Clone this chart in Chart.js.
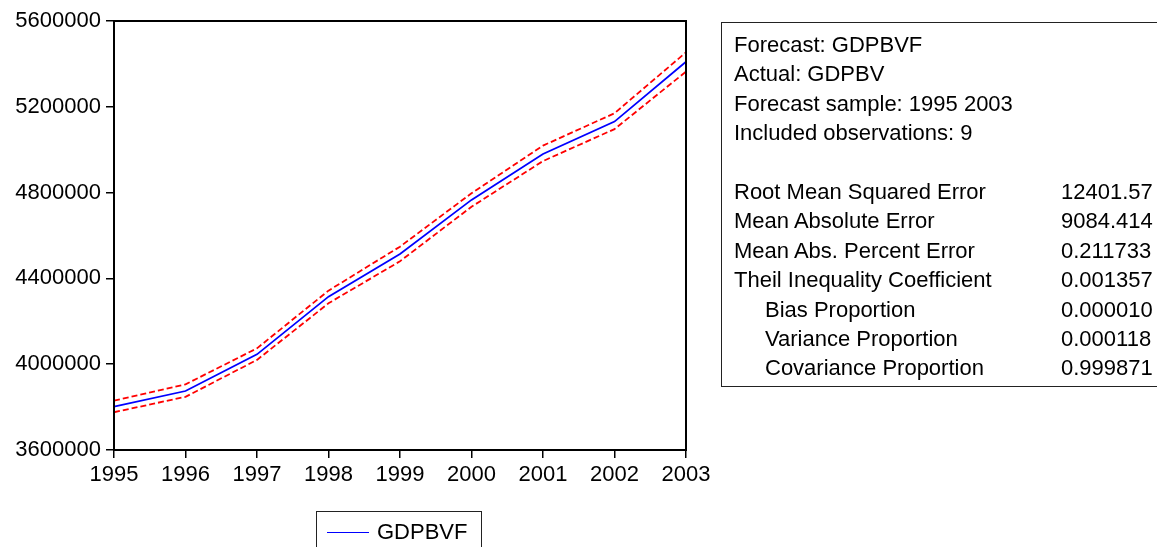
<!DOCTYPE html>
<html>
<head>
<meta charset="utf-8">
<script src="https://cdn.jsdelivr.net/npm/chart.js@4.4.0/dist/chart.umd.min.js"></script>
<style>
    body { margin: 0; background: #fff; font-family: "Liberation Sans", Arial, sans-serif; }
    #wrap { position: relative; width: 1157px; height: 547px; overflow: hidden; }
    #chart-box { position: absolute; left: 0; top: 0; width: 1157px; height: 547px; }
    #stats {
        position: absolute; left: 721px; top: 22px; width: 470px; height: 365px;
        border: 1.5px solid #222; box-sizing: border-box; padding: 7px 0 0 12px;
        font-size: 22px; line-height: 29.4px; color: #000;
    }
    #stats .row { position: relative; height: 29.4px; white-space: nowrap; }
    #stats .row.indent .lbl { padding-left: 31px; }
    #stats .val { position: absolute; left: 327px; top: 0; }
    #legend {
        position: absolute; left: 316px; top: 511px; width: 166px; height: 60px;
        border: 1.5px solid #222; box-sizing: border-box; font-size: 22px; color: #000;
    }
    #legend .swatch { position: absolute; left: 10px; top: 20px; width: 42px; height: 0; border-top: 1.5px solid #0000ff; }
    #legend .txt { position: absolute; left: 60px; top: 7px; line-height: 26px; }
</style>
</head>
<body>
<div id="wrap">
    <div id="chart-box"><canvas id="forecastChart"></canvas></div>
    <div id="stats"></div>
    <div id="legend"><span class="swatch"></span><span class="txt">GDPBVF</span></div>
</div>
<script>
// values
const years = ["1995", "1996", "1997", "1998", "1999", "2000", "2001", "2002", "2003"];
const forecast = [3802000, 3875000, 4046000, 4315000, 4514000, 4766000, 4980000, 5131000, 5410000];
const upperBand = [3830000, 3906000, 4074000, 4343000, 4548000, 4797000, 5019000, 5170000, 5454000];
const lowerBand = [3776000, 3848000, 4020000, 4284000, 4480000, 4734000, 4947000, 5096000, 5364000];
const yTicks = [3600000, 4000000, 4400000, 4800000, 5200000, 5600000];

const headerLines = ["Forecast: GDPBVF", "Actual: GDPBV", "Forecast sample: 1995 2003", "Included observations: 9"];
const statNames = ["Root Mean Squared Error", "Mean Absolute Error", "Mean Abs. Percent Error",
    "Theil Inequality Coefficient", "Bias Proportion", "Variance Proportion", "Covariance Proportion"];
const statValues = ["12401.57", "9084.414", "0.211733", "0.001357", "0.000010", "0.000118", "0.999871"];
const indented = [false, false, false, false, true, true, true];

// stats table
const statsBox = document.getElementById("stats");
let html = "";
for (let i = 0; i < headerLines.length; i++) {
    html += `<div class="row"><span class="lbl">${headerLines[i]}</span></div>`;
}
html += `<div class="row"></div>`;
for (let i = 0; i < statNames.length; i++) {
    html += `<div class="row${indented[i] ? " indent" : ""}"><span class="lbl">${statNames[i]}</span><span class="val">${statValues[i]}</span></div>`;
}
statsBox.innerHTML = html;

Chart.defaults.font.family = '"Liberation Sans", Arial, sans-serif';
Chart.defaults.font.size = 22;
Chart.defaults.color = "#000";

// box round the plot area
const frame = {
    id: "frame",
    afterDraw(chart) {
        const a = chart.chartArea;
        const ctx = chart.ctx;
        ctx.save();
        ctx.strokeStyle = "#000";
        ctx.lineWidth = 2;
        ctx.strokeRect(a.left, a.top, a.right - a.left, a.bottom - a.top);
        ctx.restore();
    }
};

const ctx = document.getElementById("forecastChart").getContext("2d");
new Chart(ctx, {
    type: "line",
    data: {
        labels: years,
        datasets: [
            { label: "upper", data: upperBand, borderColor: "#ff0000", borderWidth: 1.8, borderDash: [6, 3], pointRadius: 0, fill: false, tension: 0 },
            { label: "lower", data: lowerBand, borderColor: "#ff0000", borderWidth: 1.8, borderDash: [6, 3], pointRadius: 0, fill: false, tension: 0 },
            { label: "GDPBVF", data: forecast, borderColor: "#0000ff", borderWidth: 1.8, pointRadius: 0, fill: false, tension: 0 }
        ]
    },
    options: {
        responsive: true,
        maintainAspectRatio: false,
        animation: false,
        layout: { padding: { left: 0, right: 471, top: 21, bottom: 0 } },
        plugins: { legend: { display: false }, tooltip: { enabled: false } },
        scales: {
            x: {
                offset: false,
                grid: { display: true, drawOnChartArea: false, drawTicks: true, tickLength: 8, color: "#000", lineWidth: 1.5 },
                border: { display: true, color: "#000", width: 2 },
                ticks: { padding: 4, maxRotation: 0, autoSkip: false },
                afterFit(scale) { scale.height = 97; }
            },
            y: {
                min: 3600000,
                max: 5600000,
                grid: { display: true, drawOnChartArea: false, drawTicks: true, tickLength: 8, color: "#000", lineWidth: 1.5 },
                border: { display: true, color: "#000", width: 2 },
                afterBuildTicks(scale) { scale.ticks = yTicks.map(v => ({ value: v })); },
                ticks: { padding: 5, callback: v => String(v) },
                afterFit(scale) { scale.width = 114; }
            }
        }
    },
    plugins: [frame]
});
</script>
</body>
</html>
